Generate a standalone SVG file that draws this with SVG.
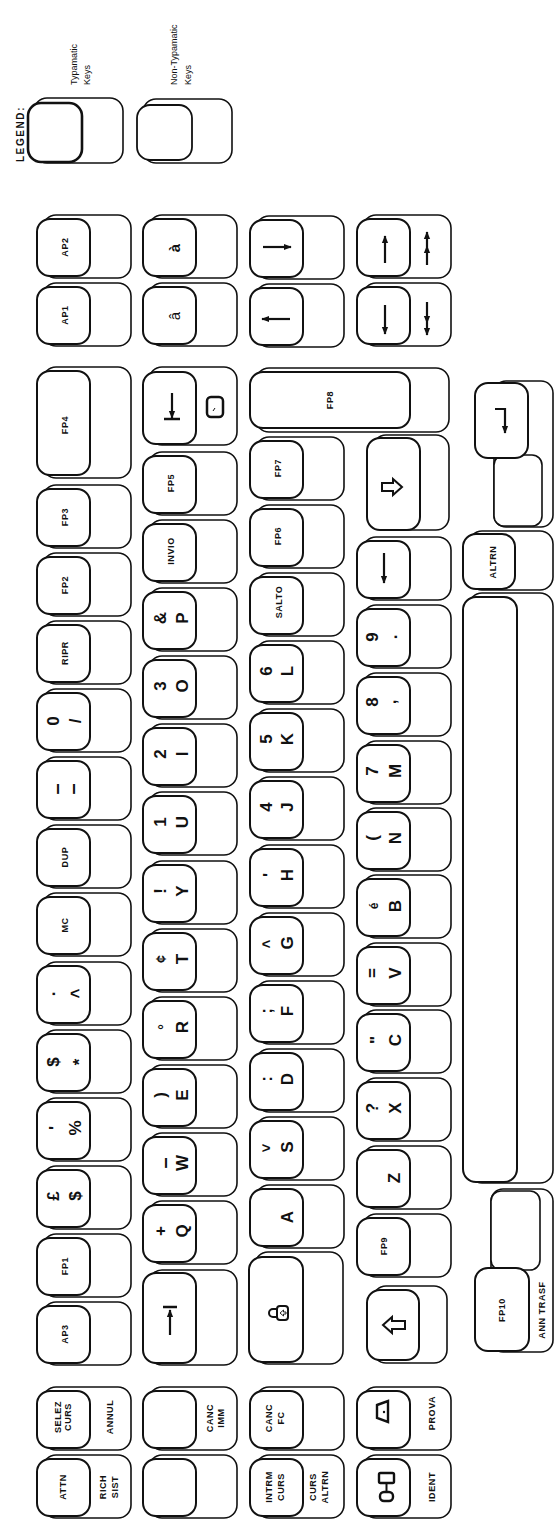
<svg xmlns="http://www.w3.org/2000/svg" width="555" height="1521" viewBox="0 0 555 1521">
<defs>
<style>
.o{fill:#fff;stroke:#111;stroke-width:1.6}
.i{fill:#fff;stroke:#111;stroke-width:2}
text{fill:#111;font-family:"Liberation Sans",Arial,sans-serif;dominant-baseline:central;text-anchor:middle}
.l{font-size:9px;font-weight:bold;letter-spacing:.6px}
.c{font-size:17px;font-weight:bold}
.g{font-size:9px}
.s{fill:none;stroke:#111;stroke-width:2}
.a{fill:none;stroke:#111;stroke-width:2.2;marker-end:url(#ah)}
.a2{fill:none;stroke:#111;stroke-width:2.2;marker-mid:url(#ah);marker-end:url(#ah)}
</style>
<marker id="ah" viewBox="0 0 10 10" refX="9" refY="5" markerWidth="8" markerHeight="8" markerUnits="userSpaceOnUse" orient="auto"><path d="M0,1 L10,5 L0,9 z" fill="#111"/></marker>
<g id="k"><rect class="o" x="6" y="0" width="88" height="63" rx="13"/><rect class="i" x="0" y="4" width="53" height="57" rx="13"/></g>
</defs>
<rect width="555" height="1521" fill="#fff"/>

<g id="legend">
<text style="font-size:10px;font-weight:bold;letter-spacing:1.6px" transform="translate(20,134) rotate(-90)">LEGEND:</text>
<g id="legend-typamatic" transform="translate(28,98)"><rect class="o" x="6" y="0" width="89" height="65" rx="13"/><rect class="i" x="0" y="5" width="54" height="59" rx="13" style="stroke-width:2.6"/></g>
<text class="g" style="text-anchor:start" transform="translate(74,85) rotate(-90)">Typamatic</text>
<text class="g" style="text-anchor:start" transform="translate(87,85) rotate(-90)">Keys</text>
<g id="legend-nontypamatic" transform="translate(137,99)"><rect class="o" x="6" y="0" width="89" height="64" rx="13"/><rect class="i" x="0" y="6" width="55" height="55" rx="13" style="stroke-width:1.8"/></g>
<text class="g" style="text-anchor:start" transform="translate(174,85) rotate(-90)">Non-Typamatic</text>
<text class="g" style="text-anchor:start" transform="translate(188,85) rotate(-90)">Keys</text>
</g>

<!-- Column 1 -->
<g id="key-ap2" transform="translate(37,215)"><use href="#k"/><text class="l" transform="translate(28,32) rotate(-90)">AP2</text></g>
<g id="key-ap1" transform="translate(37,283)"><use href="#k"/><text class="l" transform="translate(28,32) rotate(-90)">AP1</text></g>
<g id="key-fp4" transform="translate(37,367)"><rect class="o" x="6" y="0" width="88" height="111" rx="13"/><rect class="i" x="0" y="4" width="53" height="104" rx="13"/><text class="l" transform="translate(28,58) rotate(-90)">FP4</text></g>
<g id="key-fp3" transform="translate(37,485)"><use href="#k"/><text class="l" transform="translate(28,32) rotate(-90)">FP3</text></g>
<g id="key-fp2" transform="translate(37,553)"><use href="#k"/><text class="l" transform="translate(28,32) rotate(-90)">FP2</text></g>
<g id="key-ripr" transform="translate(37,621)"><use href="#k"/><text class="l" transform="translate(28,32) rotate(-90)">RIPR</text></g>
<g id="key-0" transform="translate(37,689)"><use href="#k"/><text class="c" transform="translate(16,32) rotate(-90)">0</text><text class="c" transform="translate(38,32) rotate(-90)">/</text></g>
<g id="key-dash" transform="translate(37,757)"><use href="#k"/><text class="c" style="font-size:20px" transform="translate(19,32) rotate(-90)">–</text><text class="c" style="font-size:20px" transform="translate(35,32) rotate(-90)">–</text></g>
<g id="key-dup" transform="translate(37,825)"><use href="#k"/><text class="l" transform="translate(28,32) rotate(-90)">DUP</text></g>
<g id="key-mc" transform="translate(37,893)"><use href="#k"/><text class="l" transform="translate(28,32) rotate(-90)">MC</text></g>
<g id="key-dot" transform="translate(37,962)"><use href="#k"/><text class="c" transform="translate(12,32) rotate(-90)">.</text><text class="c" transform="translate(38,31)">&lt;</text></g>
<g id="key-dollar" transform="translate(37,1030)"><use href="#k"/><text class="c" transform="translate(16,32) rotate(-90)">$</text><text class="c" transform="translate(42,32) rotate(-90)">*</text></g>
<g id="key-percent" transform="translate(37,1098)"><use href="#k"/><text class="c" transform="translate(18,30) rotate(-90)">'</text><text class="c" transform="translate(38,30) rotate(-90)">%</text></g>
<g id="key-pound" transform="translate(37,1166)"><use href="#k"/><text class="c" transform="translate(16,30) rotate(-90)">£</text><text class="c" transform="translate(38,30) rotate(-90)">$</text></g>
<g id="key-fp1" transform="translate(37,1234)"><use href="#k"/><text class="l" transform="translate(28,32) rotate(-90)">FP1</text></g>
<g id="key-ap3" transform="translate(37,1302)"><use href="#k"/><text class="l" transform="translate(28,32) rotate(-90)">AP3</text></g>
<g id="key-selez" transform="translate(37,1387)"><use href="#k"/><text class="l" transform="translate(21,30) rotate(-90)">SELEZ</text><text class="l" transform="translate(31,30) rotate(-90)">CURS</text><text class="l" transform="translate(73,30) rotate(-90)">ANNUL</text></g>
<g id="key-attn" transform="translate(37,1455)"><use href="#k"/><text class="l" transform="translate(26,32) rotate(-90)">ATTN</text><text class="l" transform="translate(66,32) rotate(-90)">RICH</text><text class="l" transform="translate(78,32) rotate(-90)">SIST</text></g>

<!-- Column 2 -->
<g id="key-agrave" transform="translate(143,215)"><use href="#k"/><text class="c" style="font-size:15px" transform="translate(31,33) rotate(-90)">à</text></g>
<g id="key-acirc" transform="translate(143,283)"><use href="#k"/><text class="c" style="font-size:15px;font-weight:normal" transform="translate(31,33) rotate(-90)">â</text></g>
<g id="key-backspace" transform="translate(143,367)"><rect class="o" x="6" y="0" width="88" height="78" rx="13"/><rect class="i" x="0" y="5" width="53" height="72" rx="13"/><polyline class="a" points="29,26 29,51"/><line class="s" x1="21" y1="52" x2="37" y2="52" style="stroke-width:2.5"/><rect class="s" x="64" y="30" width="16" height="20" rx="4" style="stroke-width:2.5"/><line class="s" x1="70" y1="44" x2="72" y2="41" style="stroke-width:1"/></g>
<g id="key-fp5" transform="translate(143,452)"><use href="#k"/><text class="l" transform="translate(28,31) rotate(-90)">FP5</text></g>
<g id="key-invio" transform="translate(143,520)"><use href="#k"/><text class="l" transform="translate(28,31) rotate(-90)">INVIO</text></g>
<g id="key-p" transform="translate(143,588)"><use href="#k"/><text class="c" transform="translate(17,30) rotate(-90)">&amp;</text><text class="c" transform="translate(39,30) rotate(-90)">P</text></g>
<g id="key-o" transform="translate(143,656)"><use href="#k"/><text class="c" transform="translate(17,30) rotate(-90)">3</text><text class="c" transform="translate(39,30) rotate(-90)">O</text></g>
<g id="key-i" transform="translate(143,724)"><use href="#k"/><text class="c" transform="translate(17,30) rotate(-90)">2</text><text class="c" transform="translate(39,30) rotate(-90)">I</text></g>
<g id="key-u" transform="translate(143,792)"><use href="#k"/><text class="c" transform="translate(17,30) rotate(-90)">1</text><text class="c" transform="translate(39,30) rotate(-90)">U</text></g>
<g id="key-y" transform="translate(143,861)"><use href="#k"/><text class="c" transform="translate(17,30) rotate(-90)">!</text><text class="c" transform="translate(39,30) rotate(-90)">Y</text></g>
<g id="key-t" transform="translate(143,929)"><use href="#k"/><text class="c" style="font-size:14px" transform="translate(18,30) rotate(-90)">¢</text><text class="c" transform="translate(39,30) rotate(-90)">T</text></g>
<g id="key-r" transform="translate(143,997)"><use href="#k"/><text class="c" style="font-size:14px" transform="translate(21,30) rotate(-90)">°</text><text class="c" transform="translate(39,30) rotate(-90)">R</text></g>
<g id="key-e" transform="translate(143,1065)"><use href="#k"/><text class="c" transform="translate(17,30) rotate(-90)">)</text><text class="c" transform="translate(39,30) rotate(-90)">E</text></g>
<g id="key-w" transform="translate(143,1133)"><use href="#k"/><text class="c" style="font-size:20px" transform="translate(21,30) rotate(-90)">–</text><text class="c" transform="translate(39,30) rotate(-90)">W</text></g>
<g id="key-q" transform="translate(143,1201)"><use href="#k"/><text class="c" transform="translate(17,30) rotate(-90)">+</text><text class="c" transform="translate(39,30) rotate(-90)">Q</text></g>
<g id="key-tab" transform="translate(143,1270)"><rect class="o" x="6" y="0" width="88" height="95" rx="13"/><rect class="i" x="0" y="3" width="53" height="90" rx="13"/><polyline class="a" points="27,65 27,40"/><line class="s" x1="20" y1="37" x2="34" y2="37" style="stroke-width:2.5"/></g>
<g id="key-canc-imm" transform="translate(143,1387)"><use href="#k"/><text class="l" transform="translate(67,31) rotate(-90)">CANC</text><text class="l" transform="translate(78,31) rotate(-90)">IMM</text></g>
<g id="key-blank" transform="translate(143,1455)"><use href="#k"/></g>

<!-- Column 3 -->
<g id="key-arrow-right" transform="translate(250,216)"><use href="#k"/><polyline class="a" points="13,31 41,31"/></g>
<g id="key-arrow-left" transform="translate(250,284)"><use href="#k"/><polyline class="a" points="40,35 12,35"/></g>
<g id="key-fp8" transform="translate(250,368)"><rect class="o" x="6" y="0" width="193" height="64" rx="13"/><rect class="i" x="0" y="4" width="160" height="56" rx="13"/><text class="l" transform="translate(80,32) rotate(-90)">FP8</text></g>
<g id="key-fp7" transform="translate(250,437)"><use href="#k"/><text class="l" transform="translate(28,31) rotate(-90)">FP7</text></g>
<g id="key-fp6" transform="translate(250,505)"><use href="#k"/><text class="l" transform="translate(28,31) rotate(-90)">FP6</text></g>
<g id="key-salto" transform="translate(250,573)"><use href="#k"/><text class="l" transform="translate(29,29) rotate(-90)">SALTO</text></g>
<g id="key-l" transform="translate(250,641)"><use href="#k"/><text class="c" transform="translate(16,30) rotate(-90)">6</text><text class="c" transform="translate(37,30) rotate(-90)">L</text></g>
<g id="key-k" transform="translate(250,709)"><use href="#k"/><text class="c" transform="translate(16,30) rotate(-90)">5</text><text class="c" transform="translate(37,30) rotate(-90)">K</text></g>
<g id="key-j" transform="translate(250,777)"><use href="#k"/><text class="c" transform="translate(16,30) rotate(-90)">4</text><text class="c" transform="translate(37,30) rotate(-90)">J</text></g>
<g id="key-h" transform="translate(250,845)"><use href="#k"/><text class="c" transform="translate(19,30) rotate(-90)">'</text><text class="c" transform="translate(37,30) rotate(-90)">H</text></g>
<g id="key-g" transform="translate(250,913)"><use href="#k"/><text class="c" style="font-size:15px" transform="translate(16,30)">&lt;</text><text class="c" transform="translate(37,30) rotate(-90)">G</text></g>
<g id="key-f" transform="translate(250,981)"><use href="#k"/><text class="c" transform="translate(16,30) rotate(-90)">;</text><text class="c" transform="translate(37,30) rotate(-90)">F</text></g>
<g id="key-d" transform="translate(250,1049)"><use href="#k"/><text class="c" transform="translate(16,30) rotate(-90)">:</text><text class="c" transform="translate(37,30) rotate(-90)">D</text></g>
<g id="key-s" transform="translate(250,1117)"><use href="#k"/><text class="c" style="font-size:15px" transform="translate(16,30)">&gt;</text><text class="c" transform="translate(37,30) rotate(-90)">S</text></g>
<g id="key-a" transform="translate(250,1185)"><use href="#k"/><text class="c" transform="translate(37,32) rotate(-90)">A</text></g>
<g id="key-lock" transform="translate(249,1252)"><rect class="o" x="6" y="0" width="88" height="112" rx="13"/><rect class="i" x="0" y="5" width="54" height="105" rx="13"/><rect class="s" x="28" y="54" width="11" height="14" rx="3"/><path class="s" d="M28,57 H24 A4,4 0 0 0 24,65 H28"/><path d="M31,61 l3.5,-3 v2 h2.5 v2 h-2.5 v2 z" fill="none" stroke="#111" stroke-width="0.9"/></g>
<g id="key-canc-fc" transform="translate(250,1387)"><use href="#k"/><text class="l" transform="translate(19,31) rotate(-90)">CANC</text><text class="l" transform="translate(31,31) rotate(-90)">FC</text></g>
<g id="key-intrm" transform="translate(250,1455)"><use href="#k"/><text class="l" transform="translate(19,32) rotate(-90)">INTRM</text><text class="l" transform="translate(31,32) rotate(-90)">CURS</text><text class="l" transform="translate(63,32) rotate(-90)">CURS</text><text class="l" transform="translate(75,32) rotate(-90)">ALTRN</text></g>

<!-- Column 4 -->
<g id="key-up" transform="translate(357,215)"><use href="#k"/><polyline class="a" points="28,48 28,21"/><polyline class="a2" points="70,50 70,31 70,17"/></g>
<g id="key-down" transform="translate(357,283)"><use href="#k"/><polyline class="a" points="28,22 28,51"/><polyline class="a2" points="70,19 70,40 70,52"/></g>
<g id="key-shift-right" transform="translate(367,435)"><rect class="o" x="6" y="0" width="76" height="95" rx="13"/><rect class="i" x="0" y="3" width="53" height="92" rx="13"/><polygon class="s" points="15,48 26,48 26,44 35,52 26,60 26,56 15,56"/></g>
<g id="key-back" transform="translate(357,537)"><use href="#k"/><polyline class="a" points="27,16 27,46"/></g>
<g id="key-period" transform="translate(357,605)"><use href="#k"/><text class="c" transform="translate(15,32) rotate(-90)">9</text><text class="c" transform="translate(34,32) rotate(-90)">.</text></g>
<g id="key-comma" transform="translate(357,673)"><use href="#k"/><text class="c" transform="translate(15,29) rotate(-90)">8</text><text class="c" transform="translate(33,29) rotate(-90)">,</text></g>
<g id="key-m" transform="translate(357,741)"><use href="#k"/><text class="c" transform="translate(15,30) rotate(-90)">7</text><text class="c" transform="translate(38,30) rotate(-90)">M</text></g>
<g id="key-n" transform="translate(357,808)"><use href="#k"/><text class="c" transform="translate(15,30) rotate(-90)">(</text><text class="c" transform="translate(38,30) rotate(-90)">N</text></g>
<g id="key-b" transform="translate(357,875)"><use href="#k"/><text class="c" style="font-size:12px" transform="translate(17,31) rotate(-90)">é</text><text class="c" transform="translate(38,31) rotate(-90)">B</text></g>
<g id="key-v" transform="translate(357,943)"><use href="#k"/><text class="c" transform="translate(15,30) rotate(-90)">=</text><text class="c" transform="translate(38,30) rotate(-90)">V</text></g>
<g id="key-c" transform="translate(357,1010)"><use href="#k"/><text class="c" transform="translate(19,30) rotate(-90)">"</text><text class="c" transform="translate(38,30) rotate(-90)">C</text></g>
<g id="key-x" transform="translate(357,1078)"><use href="#k"/><text class="c" transform="translate(15,30) rotate(-90)">?</text><text class="c" transform="translate(38,30) rotate(-90)">X</text></g>
<g id="key-z" transform="translate(357,1146)"><use href="#k"/><text class="c" transform="translate(37,32) rotate(-90)">Z</text></g>
<g id="key-fp9" transform="translate(357,1214)"><use href="#k"/><text class="l" transform="translate(27,32) rotate(-90)">FP9</text></g>
<g id="key-shift-left" transform="translate(367,1286)"><rect class="o" x="6" y="0" width="74" height="77" rx="13"/><rect class="i" x="0" y="4" width="52" height="70" rx="13"/><polygon class="s" points="38,35 25,35 25,31 16,39 25,47 25,43 38,43"/></g>
<g id="key-prova" transform="translate(357,1387)"><use href="#k"/><path class="s" d="M20,18 L31,14 L31,35 L20,31 Z" style="stroke-width:2.4"/><circle cx="27" cy="25" r="1.2" fill="#111"/><text class="l" transform="translate(75,26) rotate(-90)">PROVA</text></g>
<g id="key-ident" transform="translate(357,1455)"><use href="#k"/><rect class="s" x="22" y="18" width="15" height="10" rx="1.5" style="stroke-width:2.4"/><rect class="s" x="23" y="37" width="13" height="9" rx="4" style="stroke-width:2.4"/><line class="s" x1="29.5" y1="28" x2="29.5" y2="37"/><text class="l" transform="translate(75,32) rotate(-90)">IDENT</text></g>

<!-- Column 5 -->
<g id="key-enter" transform="translate(475,381)"><rect class="o" x="19" y="0" width="59" height="146" rx="12"/><rect class="o" x="19" y="74" width="48" height="71" rx="10"/><rect class="i" x="0" y="2" width="53" height="75" rx="13"/><polyline class="a" points="20,28 30,28 30,52"/></g>
<g id="key-altrn" transform="translate(463,531)"><rect class="o" x="6" y="0" width="84" height="59" rx="13"/><rect class="i" x="0" y="3" width="52" height="55" rx="13"/><text class="l" transform="translate(30,31) rotate(-90)">ALTRN</text></g>
<g id="key-space" transform="translate(463,593)"><rect class="o" x="6" y="0" width="84" height="590" rx="13"/><rect class="i" x="0" y="4" width="54" height="585" rx="13"/></g>
<g id="key-fp10" transform="translate(475,1189)"><rect class="o" x="16" y="0" width="62" height="163" rx="12"/><rect class="o" x="16" y="2" width="49" height="79" rx="10"/><rect class="i" x="0" y="79" width="54" height="83" rx="13"/><text class="l" transform="translate(27,121) rotate(-90)">FP10</text><text class="l" transform="translate(67,121) rotate(-90)">ANN TRASF</text></g>
</svg>
